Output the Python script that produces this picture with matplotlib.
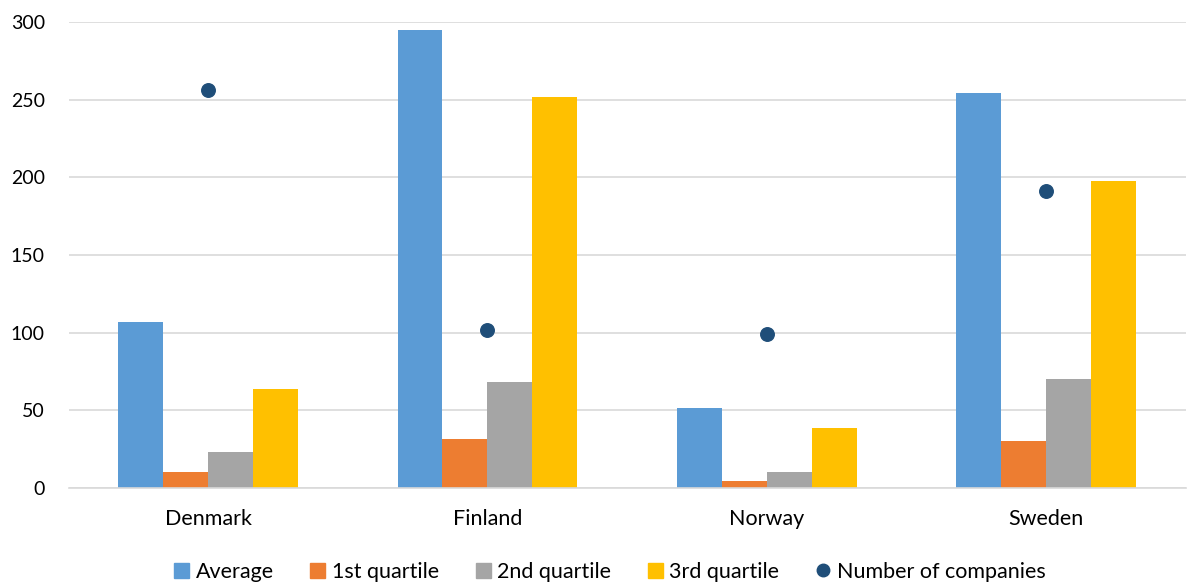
import numpy as np
import matplotlib
matplotlib.use("Agg")
import matplotlib.pyplot as plt
from matplotlib.lines import Line2D
from matplotlib.patches import Patch

plt.rcParams['font.family'] = ['Lato', 'DejaVu Sans']

countries = ['Denmark', 'Finland', 'Norway', 'Sweden']
average = [107, 295, 51.5, 254]
q1 = [10.5, 31.5, 4.7, 30.5]
q2 = [23, 68, 10.3, 70]
q3 = [64, 252, 38.5, 197.5]
n_companies = [256, 102, 99, 191]

colors = ['#5B9BD5', '#ED7D31', '#A5A5A5', '#FFC000']
labels = ['Average', '1st quartile', '2nd quartile', '3rd quartile']
dot_color = '#1F4E79'

fig = plt.figure(figsize=(11.88, 5.85), dpi=100)
ax = fig.add_axes([0.0577, 0.1658, 0.9403, 0.7966])

x = np.arange(len(countries))
w = 0.161
for i, (vals, c) in enumerate(zip([average, q1, q2, q3], colors)):
    ax.bar(x + (i - 1.5) * w, vals, width=w, color=c, zorder=2)

ax.scatter(x, n_companies, s=95, color=dot_color, zorder=3)

ax.set_xlim(-0.5, len(countries) - 0.5)
ax.set_ylim(0, 300)
ax.set_yticks(range(0, 301, 50))
ax.set_xticks(x)
ax.set_xticklabels(countries)
ax.tick_params(axis='both', length=0, labelsize=14, colors='#000000')
ax.tick_params(axis='x', labelsize=15.5, pad=15)
ax.tick_params(axis='y', pad=17)
ax.yaxis.grid(True, color='#D9D9D9', linewidth=1.2, zorder=0)
ax.set_axisbelow(True)
for s in ['top', 'right', 'left']:
    ax.spines[s].set_visible(False)
ax.spines['bottom'].set_color('#D9D9D9')
ax.spines['bottom'].set_linewidth(1.2)

handles = [Patch(color=c, label=l) for c, l in zip(colors, labels)]
handles.append(Line2D([], [], marker='o', linestyle='none', color=dot_color,
                      markersize=9, label='Number of companies'))
fig.legend(handles=handles, loc='lower center', ncol=5, frameon=False,
           fontsize=15.5, bbox_to_anchor=(0.5135, -0.028), handlelength=0.7,
           handleheight=0.7, handletextpad=0.3, columnspacing=1.7)

fig.savefig('out.png', dpi=100)
